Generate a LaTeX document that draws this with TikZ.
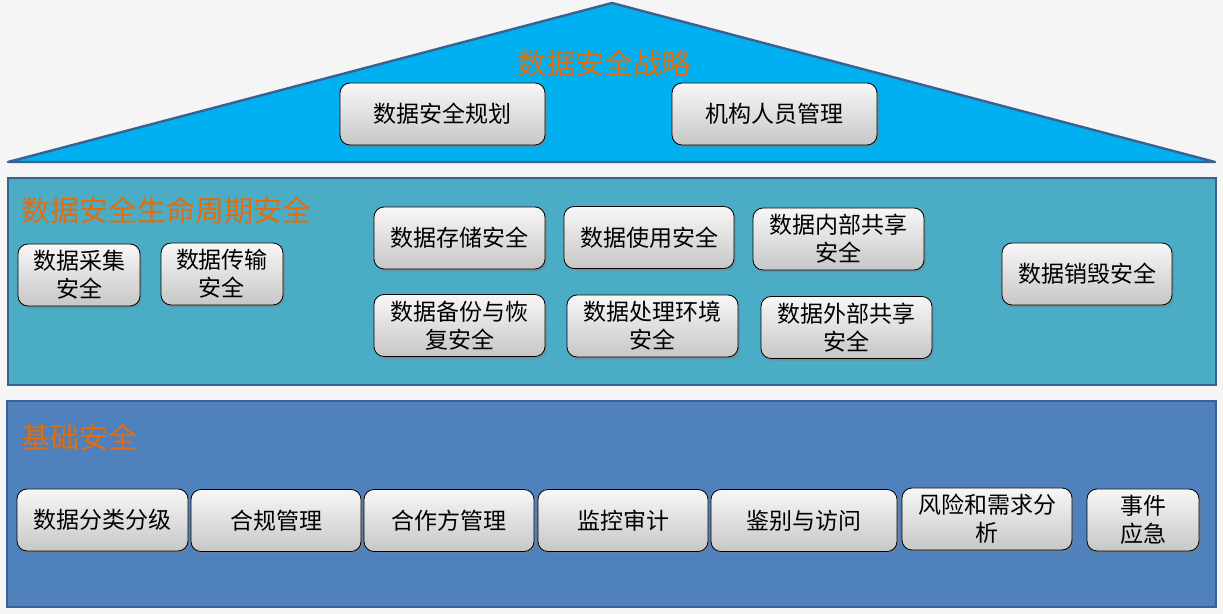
\documentclass[tikz,border=0pt]{standalone}
\usepackage{fontspec}
\setmainfont{Noto Sans CJK SC}
\usepackage{tikz}
\usetikzlibrary{positioning,shadows}
\usepackage{xcolor}
\definecolor{roofblue}{HTML}{00B0F0}
\definecolor{midteal}{HTML}{4BACC6}
\definecolor{basblue}{HTML}{4F81BD}
\definecolor{edgeblue}{HTML}{3B6193}
\definecolor{ttlorange}{HTML}{E46C0A}

\begin{document}
\begin{tikzpicture}[x=0.5pt,y=-0.5pt]
    \tikzstyle{blk}=[draw=black,rounded corners=5pt,minimum height=31pt,align=center,
      top color=white!94!gray,bottom color=black!22,
      drop shadow={shadow xshift=1pt,shadow yshift=-1.2pt,opacity=0.45},
      font=\fontsize{11.5}{14}\selectfont,inner sep=1pt]
    \tikzstyle{layer}=[draw=edgeblue,line width=1.2pt]
    \tikzstyle{ttl}=[text=ttlorange,font=\fontsize{14.5}{17}\selectfont,anchor=west,inner sep=0pt]

    % background and the three layers
    \fill[black!4] (0,0) rectangle (1223,614);
    \useasboundingbox (0,0) rectangle (1223,614);
    \draw[layer,fill=roofblue,line join=round] (8,162) -- (612,3) -- (1215,162) -- cycle;
    \draw[layer,fill=midteal] (8,178) rectangle (1216,385);
    \draw[layer,fill=basblue] (7,401) rectangle (1216,607);

    % titles
    \node[ttl,anchor=center] (strat) at (604,63) {数据安全战略};
    \node[ttl] (life) at (21,210) {数据安全生命周期安全};
    \node[ttl] (base) at (21,437) {基础安全};

    % strategy
    \node[blk,minimum width=102.5pt] (plan) at (442.5,114) {数据安全规划};
    \node[blk,minimum width=102.5pt] (staff) at (774.5,114) {机构人员管理};

    % lifecycle
    \node[blk,minimum width=61pt] (collect) at (79,275) {数据采集\\安全};
    \node[blk,minimum width=61pt] (trans) at (222,274) {数据传输\\安全};
    \node[blk,minimum width=85.5pt] (store) at (459.5,238) {数据存储安全};
    \node[blk,minimum width=85pt] (use) at (649,237.5) {数据使用安全};
    \node[blk,minimum width=85.5pt] (inshare) at (838.5,239) {数据内部共享\\安全};
    \node[blk,minimum width=85pt] (destroy) at (1087,274) {数据销毁安全};
    \node[blk,minimum width=85.5pt] (backup) at (459.5,325.5) {数据备份与恢\\复安全};
    \node[blk,minimum width=85.5pt] (procenv) at (652.5,326) {数据处理环境\\安全};
    \node[blk,minimum width=85.5pt] (outshare) at (846.5,327.5) {数据外部共享\\安全};

    % base
    \node[blk,minimum width=85.5pt] (classify) at (102.5,520) {数据分类分级};
    \node[blk,minimum width=85pt] (comply) at (276,520.5) {合规管理};
    \node[blk,minimum width=85pt] (partner) at (449,520.5) {合作方管理};
    \node[blk,minimum width=85pt] (audit) at (623,520.5) {监控审计};
    \node[blk,minimum width=93pt] (access) at (804,520.5) {鉴别与访问};
    \node[blk,minimum width=85pt] (risk) at (987,519) {风险和需求分\\析};
    \node[blk,minimum width=56pt] (incident) at (1143,520) {事件\\应急};
  \end{tikzpicture}
\end{document}
